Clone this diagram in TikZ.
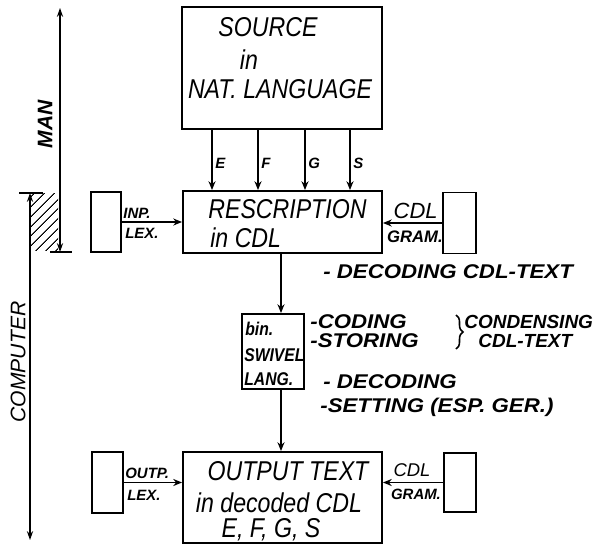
\documentclass[tikz,border=0pt]{standalone}
\usepackage{fontspec}
\usetikzlibrary{arrows.meta,patterns.meta,decorations.pathreplacing}
\newfontfamily\hand{Liberation Sans}
\newfontfamily\handn[FakeStretch=0.85]{Liberation Sans}
\newfontfamily\handw[FakeStretch=1.12]{Liberation Sans}
\tikzset{
  box/.style={draw, line width=1.1pt, inner sep=0pt},
  arr/.style={line width=0.9pt, -{Stealth[length=5pt,width=4pt]}},
  axis/.style={line width=0.9pt, {Stealth[length=5pt,width=3.5pt]}-{Stealth[length=5pt,width=3.5pt]}},
  bigtxt/.style={font=\handn\itshape\fontsize{15.5}{16}\selectfont, inner sep=0pt},
  midtxt/.style={font=\handn\bfseries\itshape\fontsize{10.5}{11}\selectfont, inner sep=0pt, anchor=west},
  sidelbl/.style={font=\handw\bfseries\itshape\fontsize{11.3}{12}\selectfont, inner sep=0pt, anchor=west},
  smalllbl/.style={font=\hand\bfseries\itshape\fontsize{8.5}{9}\selectfont, inner sep=0pt},
  axlbl/.style={font=\hand\bfseries\itshape\fontsize{12}{12}\selectfont, inner sep=0pt, rotate=90}
}
\begin{document}
\begin{tikzpicture}[x=0.02cm, y=-0.02cm]
  \useasboundingbox (0,0) rectangle (606,545);

  % Boxes
  \node[box, minimum width=4cm, minimum height=2.44cm] (src) at (282,68) {};
  \node[box, minimum width=3.98cm, minimum height=1.24cm] (res) at (282.5,222) {};
  \node[box, minimum width=0.6cm, minimum height=1.2cm] (inp) at (106,222) {};
  \node[box, minimum width=0.66cm, minimum height=1.22cm] (gramA) at (459.5,223) {};
  \node[box, minimum width=1.24cm, minimum height=1.5cm] (swv) at (273,351.5) {};
  \node[box, minimum width=3.98cm, minimum height=1.82cm] (out) at (282.5,497.5) {};
  \node[box, minimum width=0.62cm, minimum height=1.22cm] (outp) at (107.5,482.5) {};
  \node[box, minimum width=0.64cm, minimum height=1.18cm] (gramB) at (460,482.5) {};

  % Box texts
  \node[bigtxt] (srcA) at (268,27) {SOURCE};
  \node[bigtxt] (srcB) at (249,60) {in};
  \node[bigtxt] (srcC) at (280,89) {NAT. LANGUAGE};
  \node[bigtxt, anchor=west] (resA) at (208,209) {RESCRIPTION};
  \node[bigtxt, anchor=west] (resB) at (210,238) {in CDL};
  \node[midtxt] (swvA) at (245,329) {bin.};
  \node[midtxt] (swvB) at (244,355) {SWIVEL};
  \node[midtxt] (swvC) at (244,379) {LANG.};
  \node[bigtxt] (outA) at (288,471) {OUTPUT TEXT};
  \node[bigtxt] (outB) at (279,503) {in decoded CDL};
  \node[bigtxt] (outC) at (271,530) {E, F, G, S};

  % Language lines
  \foreach \x/\l in {212/E, 258/F, 305/G, 350/S} {
    \coordinate (col) at (\x,0);
    \draw[arr] (src.south -| col) -- (res.north -| col)
      node[midway, right, smalllbl, xshift=1.5pt, yshift=-2pt] {\l};
  }

  % Main flow
  \coordinate (flow) at (281,0);
  \draw[arr] (res.south -| flow) -- (swv.north -| flow);
  \draw[arr] (swv.south -| flow) -- (out.north -| flow);

  % Side inputs
  \draw[arr] (inp) -- (res);
  \draw[arr] (gramA.west) -- (gramA.west -| res.east);
  \draw[arr] (outp) -- (out.west |- outp);
  \draw[arr] (gramB.west) -- (gramB.west -| out.east);
  \node[smalllbl, anchor=west] (inpA) at (123,213) {INP.};
  \node[smalllbl, anchor=west] (inpB) at (125,233) {LEX.};
  \node[smalllbl, anchor=east, font=\hand\itshape\fontsize{12.5}{12}\selectfont] (gramAa) at (438,211) {CDL};
  \node[smalllbl, anchor=east, font=\hand\bfseries\itshape\fontsize{9.5}{10}\selectfont] (gramAb) at (443,237) {GRAM.};
  \node[smalllbl, anchor=west] (outpA) at (125,473) {OUTP.};
  \node[smalllbl, anchor=west] (outpB) at (127,495) {LEX.};
  \node[smalllbl, font=\hand\itshape\fontsize{10.5}{11}\selectfont] (gramBa) at (412,470) {CDL};
  \node[smalllbl] (gramBb) at (416,494) {GRAM.};

  % Steps
  \node[sidelbl] (stepA) at (323,272) {- DECODING CDL-TEXT};
  \node[sidelbl] (stepB) at (310,322) {-CODING};
  \node[sidelbl] (stepC) at (310,341) {-STORING};
  \coordinate (braceTop) at (456,315);
  \coordinate (braceBot) at (456,349);
  \draw[line width=0.9pt, decorate, decoration={brace, amplitude=4pt}] (braceTop) -- (braceBot);
  \node[sidelbl, font=\hand\bfseries\itshape\fontsize{10.8}{12}\selectfont] (condA) at (464,322) {CONDENSING};
  \node[sidelbl, font=\hand\bfseries\itshape\fontsize{10.8}{12}\selectfont] (condB) at (478,341) {CDL-TEXT};
  \node[sidelbl] (stepD) at (323,382) {- DECODING};
  \node[sidelbl] (stepE) at (320,407) {-SETTING (ESP. GER.)};

  % Man / computer axis
  \coordinate (manTop) at (60,8);
  \coordinate (manBot) at (60,252);
  \coordinate (compTop) at (30,193);
  \coordinate (compBot) at (30,540);
  \fill[pattern={Lines[angle=45, distance=4pt, line width=0.6pt]}] (compTop) rectangle (58,250);
  \draw[axis] (manTop) -- (manBot);
  \draw[axis] (compTop) -- (compBot);
  \draw[line width=1.1pt] (manBot) ++(-10,0) -- ++(22,0);
  \draw[line width=1.1pt] (compTop) ++(-11,0) -- ++(24,0);
  \node[axlbl] (man) at (45,124) {MAN};
  \node[axlbl, font=\hand\itshape\fontsize{12}{12}\selectfont] (comp) at (18,362) {COMPUTER};
\end{tikzpicture}
\end{document}
